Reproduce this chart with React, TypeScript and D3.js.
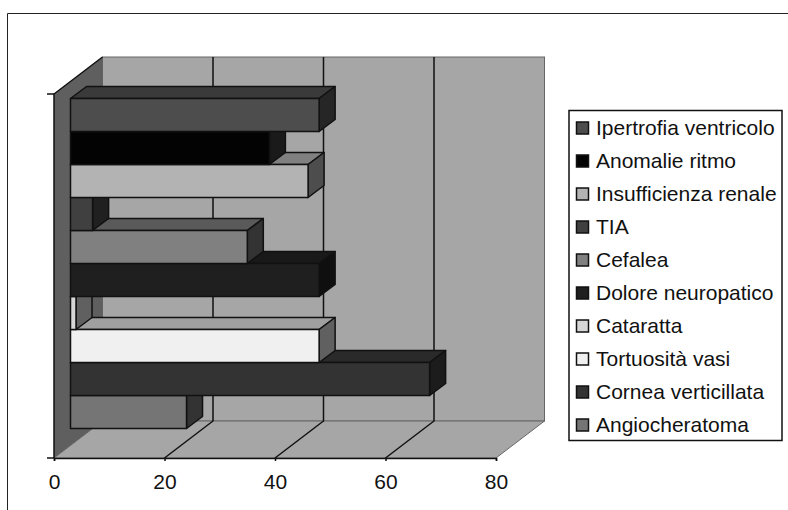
import React, { useEffect, useRef } from 'react';
import * as d3 from 'd3';

const categories = [
  'Ipertrofia ventricolo', 'Anomalie ritmo', 'Insufficienza renale', 'TIA', 'Cefalea',
  'Dolore neuropatico', 'Cataratta', 'Tortuosità vasi', 'Cornea verticillata', 'Angiocheratoma',
];
const values = [45, 36, 43, 4, 32, 45, 1, 45, 65, 21];
const xTicks = [0, 20, 40, 60, 80];

const frontColors = ['#4d4d4d', '#030303', '#b3b3b3', '#404040', '#808080', '#1f1f1f', '#d6d6d6', '#f0f0f0', '#333333', '#757575'];
const topColors = ['#3a3a3a', '#020202', '#808080', '#2d2d2d', '#5a5a5a', '#191919', '#9c9c9c', '#a0a0a0', '#2a2a2a', '#525252'];
const sideColors = ['#262626', '#1a1a1a', '#4d4d4d', '#202020', '#333333', '#0f0f0f', '#606060', '#606060', '#1c1c1c', '#333333'];

const FONT = '"Liberation Sans", Arial, sans-serif';
const FONT_SIZE = 21;

export default function App() {
  const svgRef = useRef<SVGSVGElement>(null);

  useEffect(() => {
    if (!svgRef.current) return;
    const svg = d3.select(svgRef.current);
    svg.selectAll('*').remove();

    const x = d3.scaleLinear().domain([0, 80]).range([54, 496]);
    const y = d3.scaleBand<string>().domain(categories).range([98.5, 428.5]);

    const top = 94, bottom = 458;
    const depth = { dx: 48.5, dy: -37 };
    const barOffset = 16.5;
    const bar = { dx: 16, dy: -12 };
    const lineW = 1.5;

    const poly = (pts: [number, number][]) => d3.line()(pts) + 'Z';

    // Chart frame
    svg.append('path').attr('d', 'M7.5,510V13.5H788').attr('fill', 'none').attr('stroke', '#222').attr('stroke-width', 1);

    // Walls
    svg.append('rect')
      .attr('x', x(0) + depth.dx).attr('y', top + depth.dy)
      .attr('width', x(80) - x(0)).attr('height', bottom - top)
      .attr('fill', '#a6a6a6').attr('stroke', '#666');
    svg.append('path')
      .attr('d', poly([[x(0), bottom], [x(0) + depth.dx, bottom + depth.dy], [x(80) + depth.dx, bottom + depth.dy], [x(80), bottom]]))
      .attr('fill', '#a6a6a6').attr('stroke', '#666');
    svg.append('path')
      .attr('d', poly([[x(0), top], [x(0) + depth.dx, top + depth.dy], [x(0) + depth.dx, bottom + depth.dy], [x(0), bottom]]))
      .attr('fill', '#5f5f5f').attr('stroke', 'none');

    // Gridlines, on the back wall and across the floor
    xTicks.slice(1, -1).forEach(t => {
      svg.append('path')
        .attr('d', `M${x(t)},${bottom}L${x(t) + depth.dx},${bottom + depth.dy}V${top + depth.dy}`)
        .attr('fill', 'none').attr('stroke', '#111').attr('stroke-width', lineW);
    });

    // Axis lines
    svg.append('path')
      .attr('d', `M${x(0)},${bottom}V${top}L${x(0) + depth.dx},${top + depth.dy}`)
      .attr('fill', 'none').attr('stroke', '#111').attr('stroke-width', lineW);
    [top, bottom].forEach(t => {
      svg.append('line').attr('x1', x(0) - 7).attr('x2', x(0)).attr('y1', t).attr('y2', t)
        .attr('stroke', '#111').attr('stroke-width', lineW);
    });

    const axis = svg.append('g')
      .attr('transform', `translate(0,${bottom})`)
      .call(d3.axisBottom(x).tickValues(xTicks).tickSize(3).tickPadding(13).tickFormat(d => String(d)));
    axis.selectAll('path, line').attr('stroke', '#111').attr('stroke-width', lineW);
    axis.selectAll('text').attr('font-family', FONT).attr('font-size', FONT_SIZE).attr('fill', '#111');

    // Bars, painted from the bottom one up so that upper bars overlap lower ones
    d3.range(categories.length - 1, -1, -1).forEach(i => {
      const x0 = x(0) + barOffset;
      const x1 = x(values[i]) + barOffset;
      const y0 = y(categories[i]) as number;
      const y1 = y0 + y.bandwidth();
      const g = svg.append('g').attr('stroke', '#111').attr('stroke-width', lineW).attr('stroke-linejoin', 'round');
      g.append('path')
        .attr('d', poly([[x0, y0], [x0 + bar.dx, y0 + bar.dy], [x1 + bar.dx, y0 + bar.dy], [x1, y0]]))
        .attr('fill', topColors[i]);
      g.append('path')
        .attr('d', poly([[x1, y0], [x1 + bar.dx, y0 + bar.dy], [x1 + bar.dx, y1 + bar.dy], [x1, y1]]))
        .attr('fill', sideColors[i]);
      g.append('rect')
        .attr('x', x0).attr('y', y0).attr('width', x1 - x0).attr('height', y1 - y0)
        .attr('fill', frontColors[i]);
    });

    // Legend
    svg.append('rect')
      .attr('x', 569).attr('y', 110.5).attr('width', 213).attr('height', 330)
      .attr('fill', '#fff').attr('stroke', '#111').attr('stroke-width', lineW);
    const legendY = d3.scalePoint<string>().domain(categories).range([128, 425]);
    categories.forEach((c, i) => {
      const cy = legendY(c) as number;
      svg.append('rect')
        .attr('x', 576.5).attr('y', cy - 6).attr('width', 12).attr('height', 12)
        .attr('fill', frontColors[i]).attr('stroke', '#111').attr('stroke-width', lineW);
      svg.append('text')
        .attr('x', 596).attr('y', cy + 7)
        .attr('font-family', FONT).attr('font-size', FONT_SIZE).attr('fill', '#111')
        .text(c);
    });
  }, []);

  return <svg ref={svgRef} width={788} height={510} style={{ position: 'absolute', left: 0, top: 0, background: '#fff' }} />;
}
